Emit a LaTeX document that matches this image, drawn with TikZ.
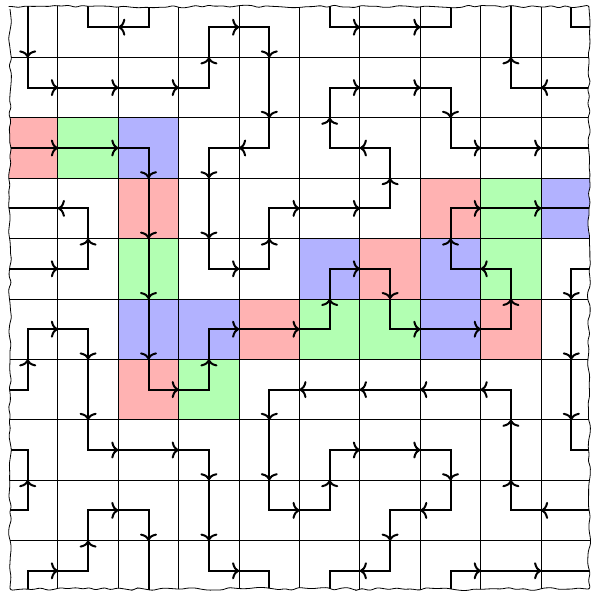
\documentclass[tikz,border=0pt]{standalone}
\usetikzlibrary{decorations.pathmorphing,decorations.markings,arrows.meta}
\tikzset{
  cellred/.style={fill=red!30},
  cellgreen/.style={fill=green!30},
  cellblue/.style={fill=blue!30},
  gridline/.style={line width=1pt, black},
  tornedge/.style={decorate, rounded corners=2.5pt, decoration={random steps, segment length=7pt, amplitude=1.6pt}},
  flow/.style={line width=2pt, black,
    postaction={decorate},
    decoration={markings,
      mark=between positions 30.2pt and 1 step 60.4pt with
        {\arrow{Computer Modern Rightarrow[length=7pt,width=17pt]}}}}
}
\begin{document}
\begin{tikzpicture}[x=1pt,y=-1pt]
\useasboundingbox (0,0) rectangle (593,591);
\begin{scope}
  \pgfmathsetseed{12}
  \clip[tornedge] (10,6.5) rectangle (589,589);
  \begin{scope}[shift={(27.7,27.2)}, x=60.4pt, y=-60.4pt]
    % coloured cells
    \foreach \c/\r in {0/2,2/3,2/6,4/5,6/4,8/5,7/3}
      \fill[cellred] (\c-0.5,\r-0.5) rectangle (\c+0.5,\r+0.5);
    \foreach \c/\r in {1/2,2/4,3/6,5/5,6/5,8/4,8/3}
      \fill[cellgreen] (\c-0.5,\r-0.5) rectangle (\c+0.5,\r+0.5);
    \foreach \c/\r in {2/2,2/5,3/5,5/4,7/5,7/4,9/3}
      \fill[cellblue] (\c-0.5,\r-0.5) rectangle (\c+0.5,\r+0.5);
    % grid
    \foreach \i in {-0.5,0.5,...,9.5} {
      \draw[gridline] (\i,-0.7) -- (\i,9.7);
      \draw[gridline] (-0.7,\i) -- (9.7,\i);
    }
    % paths
    \draw[flow] (0,-1) -- (0,0) -- (0,1) -- (1,1) -- (2,1) -- (3,1) -- (3,0) -- (4,0) -- (4,1) -- (4,2) -- (3,2) -- (3,3) -- (3,4) -- (4,4) -- (4,3) -- (5,3) -- (6,3) -- (6,2) -- (5,2) -- (5,1) -- (6,1) -- (7,1) -- (7,2) -- (8,2) -- (9,2) -- (10,2);
    \draw[flow] (2,-1) -- (2,0) -- (1,0) -- (1,-1);
    \draw[flow] (5,-1) -- (5,0) -- (6,0) -- (7,0) -- (7,-1);
    \draw[flow] (10,1) -- (9,1) -- (8,1) -- (8,0) -- (8,-1);
    \draw[flow] (9,-1) -- (9,0) -- (10,0);
    \draw[flow] (-1,2) -- (0,2) -- (1,2) -- (2,2) -- (2,3) -- (2,4) -- (2,5) -- (2,6) -- (3,6) -- (3,5) -- (4,5) -- (5,5) -- (5,4) -- (6,4) -- (6,5) -- (7,5) -- (8,5) -- (8,4) -- (7,4) -- (7,3) -- (8,3) -- (9,3) -- (10,3);
    \draw[flow] (-1,4) -- (0,4) -- (1,4) -- (1,3) -- (0,3) -- (-1,3);
    \draw[flow] (-1,6) -- (0,6) -- (0,5) -- (1,5) -- (1,6) -- (1,7) -- (2,7) -- (3,7) -- (3,8) -- (3,9) -- (4,9) -- (4,10);
    \draw[flow] (10,8) -- (9,8) -- (8,8) -- (8,7) -- (8,6) -- (7,6) -- (6,6) -- (5,6) -- (4,6) -- (4,7) -- (4,8) -- (5,8) -- (5,7) -- (6,7) -- (7,7) -- (7,8) -- (6,8) -- (6,9) -- (5,9) -- (5,10);
    \draw[flow] (10,4) -- (9,4) -- (9,5) -- (9,6) -- (9,7) -- (10,7);
    \draw[flow] (7,10) -- (7,9) -- (8,9) -- (9,9) -- (10,9);
    \draw[flow] (-1,8) -- (0,8) -- (0,7) -- (-1,7);
    \draw[flow] (0,10) -- (0,9) -- (1,9) -- (1,8) -- (2,8) -- (2,9) -- (2,10);
  \end{scope}
\end{scope}
\pgfmathsetseed{12}
\draw[tornedge, line width=0.8pt] (10,6.5) rectangle (589,589);
\end{tikzpicture}
\end{document}
